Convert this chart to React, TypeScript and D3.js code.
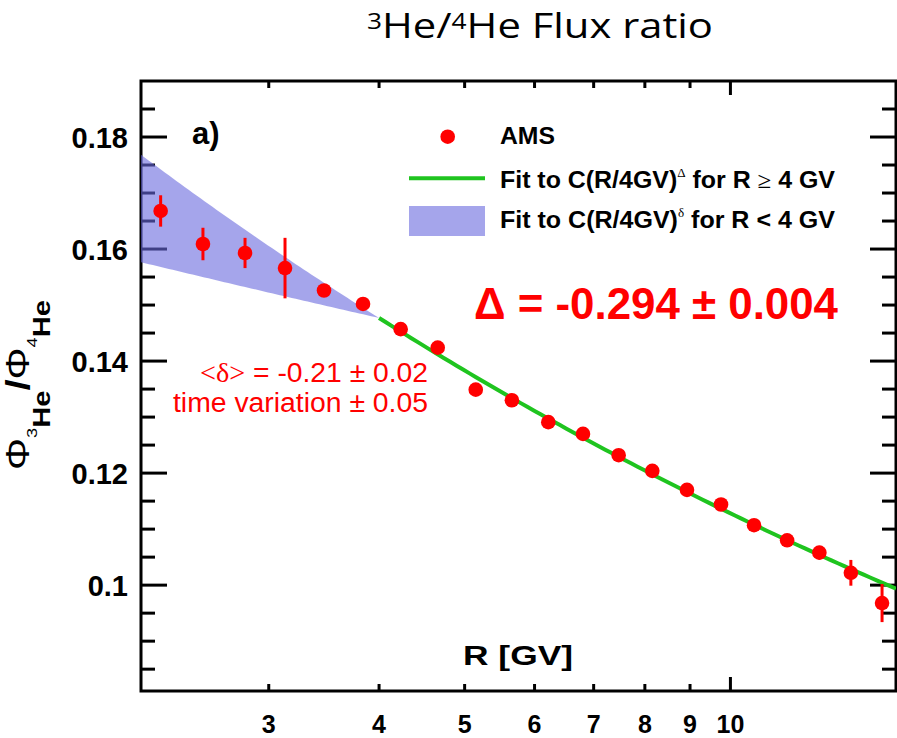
import React from "react";
import * as d3 from "d3";

// AMS 3He/4He flux ratio measurements
const rigidity = [2.263, 2.527, 2.82, 3.13, 3.465, 3.836, 4.232, 4.661, 5.147, 5.656, 6.219, 6.808, 7.472, 8.157, 8.929, 9.758, 10.635, 11.593, 12.61, 13.69, 14.85];
const ratio = [0.1668, 0.1609, 0.1593, 0.1566, 0.1526, 0.1502, 0.1457, 0.1424, 0.1349, 0.133, 0.1291, 0.127, 0.1232, 0.1204, 0.117, 0.1144, 0.1107, 0.108, 0.1058, 0.1022, 0.0968];
const ratioErr = [0.0028, 0.0029, 0.0027, 0.0054, 0.001, 0.001, 0.0008, 0.0008, 0.0008, 0.0008, 0.0008, 0.0008, 0.0008, 0.0008, 0.0009, 0.0009, 0.001, 0.0011, 0.0012, 0.0023, 0.0034];

// Power-law fit C (R / 4 GV)^Delta above the pivot, band of delta values below it
const pivotR = 4;
const fitC = 0.1477;
const fitDelta = -0.294;
const bandDelta = [-0.105, -0.29];

const xDomain = [2.15, 15.4];
const yDomain = [0.0811, 0.19];

const xTicks = [3, 4, 5, 6, 7, 8, 9, 10];
const xTickLabels = ["3", "4", "5", "6", "7", "8", "9", "10"];
const yMajorTicks = [0.1, 0.12, 0.14, 0.16, 0.18];
const yTickLabels = ["0.1", "0.12", "0.14", "0.16", "0.18"];
const yMinorTicks = [0.085, 0.09, 0.095, 0.105, 0.11, 0.115, 0.125, 0.13, 0.135, 0.145, 0.15, 0.155, 0.165, 0.17, 0.175, 0.185];

const W = 897;
const H = 738;
const left = 141;
const right = 896;
const top = 81;
const bottom = 691;

const RED = "#ff0000";
const GREEN = "#1fc41f";
const SANS = "'Liberation Sans', Arial, Helvetica, sans-serif";
const SERIF = "'Liberation Serif', 'Times New Roman', serif";

export default function App() {
  const x = d3.scaleLog().domain(xDomain).range([left, right]);
  const y = d3.scaleLinear().domain(yDomain).range([bottom, top]);

  const fit = (r: number, d: number) => fitC * Math.pow(r / pivotR, d);

  const lowR = d3.range(0, 61).map((i) => xDomain[0] * Math.pow(pivotR / xDomain[0], i / 60));
  const highR = d3.range(0, 81).map((i) => pivotR * Math.pow(xDomain[1] / pivotR, i / 80));

  const bandArea = d3
    .area<number>()
    .x((r) => x(r))
    .y0((r) => y(fit(r, bandDelta[0])))
    .y1((r) => y(fit(r, bandDelta[1])));

  const fitLine = d3
    .line<number>()
    .x((r) => x(r))
    .y((r) => y(fit(r, fitDelta)));

  return (
    <svg
      width={W}
      height={H}
      viewBox={`0 0 ${W} ${H}`}
      style={{ position: "absolute", left: 0, top: 0, background: "#fff" }}
    >
      <defs>
        <clipPath id="plotArea">
          <rect x={left} y={top} width={right - left} height={bottom - top} />
        </clipPath>
      </defs>
      <rect width={W} height={H} fill="#fff" />

      {/* title */}
      <text x={367} y={38} fontFamily="'Open Sans', 'Noto Sans', sans-serif" fontSize={35} fill="#000" textLength={346} lengthAdjust="spacingAndGlyphs">
        <tspan fontSize={22} dy={-9}>3</tspan>
        <tspan dy={9}>He/</tspan>
        <tspan fontSize={22} dy={-9}>4</tspan>
        <tspan dy={9}>He Flux ratio</tspan>
      </text>

      {/* frame */}
      <rect x={left} y={top} width={right - left} height={bottom - top} fill="none" stroke="#000" strokeWidth={3} />

      {/* y ticks, left and right */}
      {yMajorTicks.map((v) => (
        <g key={`ym${v}`}>
          <line x1={left} x2={left + 26} y1={y(v)} y2={y(v)} stroke="#000" strokeWidth={3} />
          <line x1={right} x2={right - 26} y1={y(v)} y2={y(v)} stroke="#000" strokeWidth={3} />
        </g>
      ))}
      {yMinorTicks.map((v) => (
        <g key={`yn${v}`}>
          <line x1={left} x2={left + 14} y1={y(v)} y2={y(v)} stroke="#000" strokeWidth={3} />
          <line x1={right} x2={right - 14} y1={y(v)} y2={y(v)} stroke="#000" strokeWidth={3} />
        </g>
      ))}
      {yMajorTicks.map((v, i) => (
        <text key={`yl${v}`} x={128} y={y(v) + 10.5} textAnchor="end" fontFamily={SANS} fontWeight="bold" fontSize={29} fill="#000">
          {yTickLabels[i]}
        </text>
      ))}

      {/* x ticks, bottom and top */}
      {xTicks.map((r, i) => {
        const len = r === 10 ? 14 : 7;
        return (
          <g key={`xt${r}`}>
            <line x1={x(r)} x2={x(r)} y1={bottom} y2={bottom - len} stroke="#000" strokeWidth={3} />
            <line x1={x(r)} x2={x(r)} y1={top} y2={top + len} stroke="#000" strokeWidth={3} />
            <text x={x(r)} y={733} textAnchor="middle" fontFamily={SANS} fontWeight="bold" fontSize={25} fill="#000">
              {xTickLabels[i]}
            </text>
          </g>
        );
      })}

      {/* axis titles */}
      <text x={463} y={665} fontFamily={SANS} fontWeight="bold" fontSize={27} fill="#000" textLength={110} lengthAdjust="spacingAndGlyphs">
        R [GV]
      </text>
      <text transform="translate(29,385) rotate(-90)" textAnchor="middle" fontFamily={SANS} fill="#000" fontSize={33} textLength={170} lengthAdjust="spacingAndGlyphs">
        <tspan>Φ</tspan>
        <tspan fontSize={15} dy={8}>3</tspan>
        <tspan fontSize={24} fontWeight="bold" dy={13}>He</tspan>
        <tspan fontWeight="bold" dy={-21}>/</tspan>
        <tspan>Φ</tspan>
        <tspan fontSize={15} dy={8}>4</tspan>
        <tspan fontSize={24} fontWeight="bold" dy={13}>He</tspan>
      </text>

      <text x={192} y={144} fontFamily={SANS} fontWeight="bold" fontSize={31} fill="#000">
        a)
      </text>

      {/* fit band below the pivot and fit curve above it */}
      <g clipPath="url(#plotArea)">
        <path d={bandArea(lowR) ?? ""} fill="rgb(105,105,222)" fillOpacity={0.6} />
        <path d={fitLine(highR) ?? ""} fill="none" stroke={GREEN} strokeWidth={4} />
      </g>

      {/* data points with error bars */}
      {rigidity.map((r, i) => (
        <g key={`p${i}`}>
          <line x1={x(r)} x2={x(r)} y1={y(ratio[i] - ratioErr[i])} y2={y(ratio[i] + ratioErr[i])} stroke={RED} strokeWidth={3} />
          <circle cx={x(r)} cy={y(ratio[i])} r={7.3} fill={RED} />
        </g>
      ))}

      {/* legend */}
      <circle cx={447.7} cy={136.7} r={7.3} fill={RED} />
      <text x={500} y={144} fontFamily={SANS} fontWeight="bold" fontSize={23} fill="#000" textLength={55} lengthAdjust="spacingAndGlyphs">
        AMS
      </text>
      <line x1={409} x2={485} y1={178.3} y2={178.3} stroke={GREEN} strokeWidth={4} />
      <text x={500} y={188} fontFamily={SANS} fontWeight="bold" fontSize={23} fill="#000" textLength={335} lengthAdjust="spacingAndGlyphs">
        <tspan>Fit to C(R/4GV)</tspan>
        <tspan fontFamily={SERIF} fontWeight="normal" fontSize={12} dy={-11}>Δ</tspan>
        <tspan dy={11}> for R </tspan>
        <tspan fontFamily={SERIF} fontWeight="normal">≥</tspan>
        <tspan> 4 GV</tspan>
      </text>
      <rect x={409} y={206} width={76} height={30} fill="rgb(105,105,222)" fillOpacity={0.6} />
      <text x={500} y={228} fontFamily={SANS} fontWeight="bold" fontSize={23} fill="#000" textLength={335} lengthAdjust="spacingAndGlyphs">
        <tspan>Fit to C(R/4GV)</tspan>
        <tspan fontFamily={SERIF} fontWeight="normal" fontSize={12} dy={-11}>δ</tspan>
        <tspan dy={11}> for R &lt; 4 GV</tspan>
      </text>

      {/* fit results */}
      <text x={474} y={319} fontFamily={SANS} fontWeight="bold" fontSize={44} fill={RED} textLength={364} lengthAdjust="spacingAndGlyphs">
        Δ = -0.294 ± 0.004
      </text>
      <text x={428} y={381.7} textAnchor="end" fontFamily={SANS} fontSize={27} fill={RED} textLength={228} lengthAdjust="spacingAndGlyphs">
        <tspan fontFamily={SERIF}>&lt;δ&gt;</tspan>
        <tspan> = -0.21 ± 0.02</tspan>
      </text>
      <text x={428} y={411.7} textAnchor="end" fontFamily={SANS} fontSize={27} fill={RED} textLength={255} lengthAdjust="spacingAndGlyphs">
        time variation ± 0.05
      </text>
    </svg>
  );
}
